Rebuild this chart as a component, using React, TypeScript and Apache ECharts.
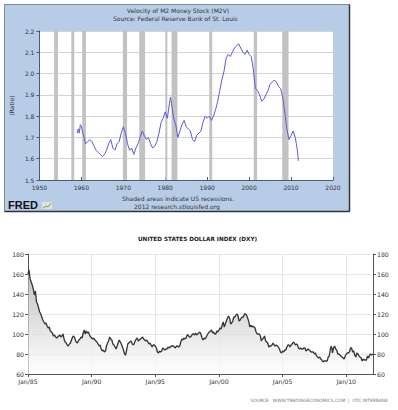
import React, { useEffect, useRef } from "react";
import * as echarts from "echarts";

// ---- Velocity of M2 (M2V) ----
const m2vYears = [
  1959.0, 1959.25, 1959.5, 1959.75, 1960.0, 1960.5, 1961.0, 1961.5, 1962.0, 1962.5,
  1963.0, 1963.5, 1964.0, 1964.5, 1965.0, 1965.5, 1966.0, 1966.5, 1967.0, 1967.5,
  1968.0, 1968.5, 1969.0, 1969.5, 1970.0, 1970.5, 1971.0, 1971.5, 1972.0, 1972.5,
  1973.0, 1973.5, 1974.0, 1974.5, 1975.0, 1975.5, 1976.0, 1976.5, 1977.0, 1977.5,
  1978.0, 1978.5, 1979.0, 1979.5, 1980.0, 1980.5, 1981.0, 1981.25, 1981.5, 1982.0,
  1982.5, 1983.0, 1983.5, 1984.0, 1984.5, 1985.0, 1985.5, 1986.0, 1986.5, 1987.0,
  1987.5, 1988.0, 1988.5, 1989.0, 1989.5, 1990.0, 1990.5, 1991.0, 1991.5, 1992.0,
  1992.5, 1993.0, 1993.5, 1994.0, 1994.5, 1995.0, 1995.5, 1996.0, 1996.5, 1997.0,
  1997.5, 1998.0, 1998.5, 1999.0, 1999.5, 2000.0, 2000.5, 2001.0, 2001.5, 2002.0,
  2002.5, 2003.0, 2003.5, 2004.0, 2004.5, 2005.0, 2005.5, 2006.0, 2006.5, 2007.0,
  2007.5, 2008.0, 2008.5, 2009.0, 2009.5, 2010.0, 2010.5, 2011.0, 2011.5, 2011.75,
];
const m2vValues = [
  1.72, 1.74, 1.72, 1.76, 1.75, 1.71, 1.67, 1.68, 1.69, 1.68,
  1.66, 1.64, 1.63, 1.62, 1.61, 1.62, 1.64, 1.67, 1.69, 1.65,
  1.64, 1.67, 1.68, 1.72, 1.75, 1.72, 1.67, 1.64, 1.65, 1.62,
  1.65, 1.67, 1.70, 1.73, 1.71, 1.69, 1.70, 1.67, 1.65, 1.66,
  1.68, 1.72, 1.77, 1.79, 1.82, 1.79, 1.86, 1.89, 1.86, 1.79,
  1.76, 1.70, 1.73, 1.76, 1.78, 1.75, 1.74, 1.73, 1.69, 1.68,
  1.71, 1.72, 1.73, 1.77, 1.80, 1.79, 1.80, 1.78, 1.80, 1.83,
  1.87, 1.92, 1.97, 2.01, 2.07, 2.09, 2.08, 2.10, 2.12, 2.13,
  2.14, 2.12, 2.10, 2.09, 2.11, 2.09, 2.08, 2.02, 1.93, 1.92,
  1.90, 1.87, 1.88, 1.90, 1.92, 1.95, 1.96, 1.97, 1.96, 1.94,
  1.93, 1.89, 1.82, 1.74, 1.69, 1.71, 1.73, 1.70, 1.64, 1.59,
];
const recessions: [number, number][] = [
  [1953.5, 1954.4], [1957.6, 1958.3], [1960.2, 1961.1], [1969.9, 1970.9],
  [1973.8, 1975.2], [1980.0, 1980.5], [1981.5, 1982.9], [1990.5, 1991.2],
  [2001.1, 2001.9], [2007.9, 2009.4],
];

// ---- US Dollar Index (DXY), monthly from Jan 1985 ----
const dxyStartYear = 1985;
const dxyMonthly = [
  // 1985
  160, 164, 155, 152, 149, 145, 139, 143, 132, 130, 126, 122,
  // 1986
  120, 117, 114, 112, 110, 111, 108, 106, 107, 103, 102, 101,
  // 1987
  98, 99, 97, 96, 97, 98, 99, 97, 98, 100, 95, 92,
  // 1988
  91, 89, 88, 90, 91, 94, 97, 98, 96, 93, 91, 92,
  // 1989
  94, 95, 97, 96, 101, 104, 100, 103, 101, 102, 99, 97,
  // 1990
  96, 95, 96, 94, 93, 92, 90, 88, 89, 85, 83, 84,
  // 1991
  82, 83, 88, 91, 93, 97, 95, 94, 90, 89, 87, 85,
  // 1992
  88, 91, 94, 92, 90, 87, 84, 80, 79, 84, 90, 91,
  // 1993
  92, 93, 91, 89, 90, 93, 95, 96, 93, 94, 95, 96,
  // 1994
  97, 95, 94, 93, 94, 92, 90, 91, 89, 87, 89, 89,
  // 1995
  88, 86, 82, 81, 83, 82, 83, 86, 85, 84, 85, 85,
  // 1996
  87, 86, 87, 88, 88, 88, 87, 86, 88, 88, 87, 88,
  // 1997
  92, 95, 94, 96, 95, 96, 99, 99, 97, 97, 98, 100,
  // 1998
  100, 99, 101, 99, 100, 101, 102, 100, 96, 94, 96, 95,
  // 1999
  97, 99, 101, 102, 103, 104, 101, 102, 100, 100, 103, 102,
  // 2000
  104, 106, 105, 109, 112, 107, 110, 113, 116, 118, 116, 110,
  // 2001
  111, 113, 117, 117, 119, 120, 118, 113, 114, 116, 117, 117,
  // 2002
  120, 120, 119, 116, 113, 107, 109, 107, 108, 107, 106, 102,
  // 2003
  100, 100, 100, 98, 93, 95, 96, 98, 93, 92, 91, 87,
  // 2004
  88, 88, 89, 91, 89, 88, 89, 88, 87, 85, 82, 81,
  // 2005
  83, 82, 84, 84, 87, 89, 89, 87, 89, 90, 92, 91,
  // 2006
  89, 90, 89, 86, 85, 86, 85, 85, 86, 86, 83, 84,
  // 2007
  85, 84, 83, 82, 82, 82, 80, 81, 78, 77, 76, 77,
  // 2008
  75, 74, 72, 73, 73, 73, 73, 77, 78, 85, 88, 81,
  // 2009
  86, 88, 85, 84, 80, 80, 79, 78, 77, 76, 75, 78,
  // 2010
  80, 81, 81, 82, 86, 86, 82, 83, 79, 77, 81, 80,
  // 2011
  78, 77, 76, 73, 75, 74, 74, 74, 78, 76, 79, 80,
  // 2012
  79, 80,
];

export default function App() {
  const ref = useRef<HTMLDivElement>(null);
  useEffect(() => {
    if (!ref.current) return;
    const chart = echarts.init(ref.current, undefined, { renderer: "svg" });
    const m2vData = m2vYears.map((y, i) => [y, m2vValues[i]]);
    const dxyData = dxyMonthly.map((v, i) => [dxyStartYear + i / 12, v]);
    const font = "DejaVu Sans";
    chart.setOption({
      animation: false,
      backgroundColor: "#ffffff",
      grid: [
        { left: 34, top: 31, width: 299, height: 149, show: true, backgroundColor: "#ffffff", borderWidth: 0 },
        { left: 28, top: 254, width: 345, height: 120, show: false },
      ],
      xAxis: [
        {
          type: "value", gridIndex: 0, min: 1950, max: 2020, interval: 10,
          axisLine: { show: true, lineStyle: { color: "#4a5a70", width: 1 } },
          axisTick: { show: true, inside: true, length: 3, lineStyle: { color: "#4a5a70" } },
          axisLabel: { fontSize: 6, fontFamily: font, color: "#333", margin: 4, formatter: (v: number) => String(v) },
          splitLine: { show: false },
        },
        {
          type: "value", gridIndex: 1, min: 1985, max: 2012.1, interval: 5,
          axisLine: { show: true, lineStyle: { color: "#555", width: 1 } },
          axisTick: { show: true, length: 3, lineStyle: { color: "#555" } },
          axisLabel: {
            fontSize: 6.2, fontFamily: font, color: "#333", margin: 4, showMaxLabel: false,
            formatter: (v: number) => "Jan/" + String(Math.round(v)).slice(2),
          },
          splitLine: { show: true, lineStyle: { color: "#e6e6e6", width: 1 } },
        },
      ],
      yAxis: [
        {
          type: "value", gridIndex: 0, min: 1.5, max: 2.2, interval: 0.1,
          name: "(Ratio)", nameLocation: "middle", nameGap: 21, nameRotate: 90,
          nameTextStyle: { fontSize: 6, fontFamily: font, color: "#333" },
          axisLine: { show: true, lineStyle: { color: "#4a5a70", width: 1 } },
          axisTick: { show: true, length: 3, lineStyle: { color: "#4a5a70" } },
          axisLabel: { fontSize: 6, fontFamily: font, color: "#333", margin: 5, formatter: (v: number) => v.toFixed(1) },
          splitLine: { show: true, lineStyle: { color: "#d4d4d4", width: 1 } },
        },
        {
          type: "value", gridIndex: 1, min: 60, max: 180, interval: 20, position: "left",
          axisLine: { show: true, lineStyle: { color: "#555", width: 1 } },
          axisTick: { show: true, length: 3, lineStyle: { color: "#555" } },
          axisLabel: { fontSize: 6.2, fontFamily: font, color: "#333", margin: 4 },
          splitLine: { show: true, lineStyle: { color: "#e6e6e6", width: 1 } },
        },
        {
          type: "value", gridIndex: 1, min: 60, max: 180, interval: 20, position: "right",
          axisLine: { show: true, lineStyle: { color: "#555", width: 1 } },
          axisTick: { show: true, length: 3, lineStyle: { color: "#555" } },
          axisLabel: { fontSize: 6.2, fontFamily: font, color: "#333", margin: 4 },
          splitLine: { show: false },
        },
      ],
      series: [
        {
          type: "line", xAxisIndex: 0, yAxisIndex: 0, data: m2vData, symbol: "none",
          lineStyle: { color: "#5a5ae0", width: 1 }, z: 3,
          markArea: {
            silent: true,
            itemStyle: { color: "#c2c2c2", opacity: 1 },
            data: recessions.map(([a, b]) => [{ xAxis: a }, { xAxis: b }]),
          },
        },
        {
          type: "line", xAxisIndex: 1, yAxisIndex: 1, data: dxyData, symbol: "none",
          lineStyle: { color: "#333", width: 1.3 },
          areaStyle: {
            origin: "start",
            color: new echarts.graphic.LinearGradient(0, 0, 0, 1, [
              { offset: 0, color: "#a8a8a8" },
              { offset: 1, color: "#ffffff" },
            ]),
          },
        },
      ],
      graphic: [
        {
          type: "rect", z: -10,
          shape: { x: 4.5, y: 4.5, width: 345, height: 207 },
          style: { fill: "#b7cce6", stroke: "#7f8a99", lineWidth: 1 },
        },
        {
          type: "line", z: -9,
          shape: { x1: 349.5, y1: 4.5, x2: 349.5, y2: 211.5 },
          style: { stroke: "#2c3440", lineWidth: 1.5 },
        },
        {
          type: "line", z: -9,
          shape: { x1: 4.5, y1: 211.5, x2: 349.5, y2: 211.5 },
          style: { stroke: "#2c3440", lineWidth: 1.5 },
        },
        {
          type: "text", left: 127, top: 7,
          style: { text: "Velocity of M2 Money Stock (M2V)", fontSize: 6, fontFamily: font, fill: "#333" },
        },
        {
          type: "text", left: 113, top: 15,
          style: { text: "Source: Federal Reserve Bank of St. Louis", fontSize: 6, fontFamily: font, fill: "#333" },
        },
        {
          type: "text", left: 122, top: 195,
          style: { text: "Shaded areas indicate US recessions.", fontSize: 6, fontFamily: font, fill: "#333" },
        },
        {
          type: "text", left: 134, top: 203,
          style: { text: "2012 research.stlouisfed.org", fontSize: 6, fontFamily: font, fill: "#333" },
        },
        {
          type: "text", left: 8, top: 199,
          style: { text: "FRED", fontSize: 11, fontWeight: "bold", fontFamily: "Liberation Sans", fill: "#111" },
        },
        {
          type: "rect",
          shape: { x: 42, y: 202, width: 10, height: 7 },
          style: { fill: "#dfe6d8" },
        },
        {
          type: "polyline",
          shape: { points: [[43, 208], [46, 206], [48, 207], [51, 203]] },
          style: { stroke: "#7a9a6a", lineWidth: 1, fill: "none" },
        },
        {
          type: "text", left: 138, top: 236,
          style: { text: "UNITED STATES DOLLAR INDEX (DXY)", fontSize: 5.7, fontWeight: "bold", fontFamily: font, fill: "#222" },
        },
        {
          type: "text", right: 10, top: 398,
          style: { text: "SOURCE:  WWW.TRADINGECONOMICS.COM  |  OTC INTERBANK", fontSize: 4.4, fontFamily: font, fill: "#777" },
        },
      ],
    });
    return () => chart.dispose();
  }, []);
  return (
    <div
      ref={ref}
      style={{ position: "absolute", left: 0, top: 0, width: 398, height: 410, background: "#fff" }}
    />
  );
}
